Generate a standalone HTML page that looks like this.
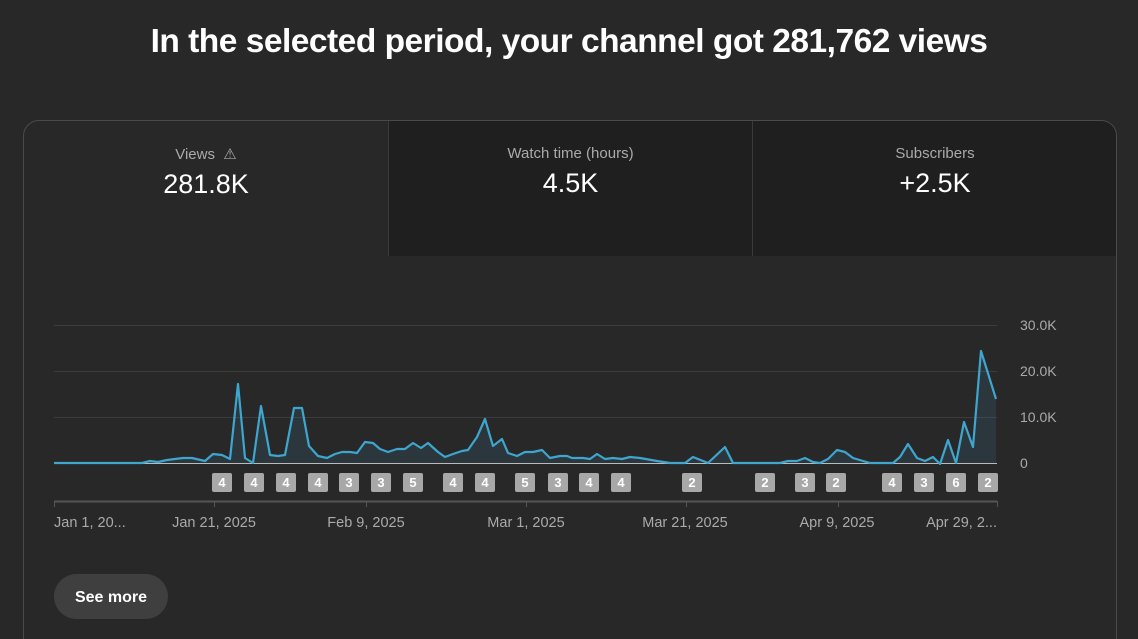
<!DOCTYPE html>
<html><head><style>
html,body{margin:0;width:1138px;height:639px;overflow:hidden}
body{background:#282828;font-family:"Liberation Sans",sans-serif;position:relative;color:#fff}
.t{position:absolute;top:23px;left:0;width:1138px;text-align:center;font-size:33.5px;font-weight:bold;letter-spacing:-0.5px}
.card{position:absolute;left:23px;top:120px;width:1092px;height:540px;border:1px solid #4a4a4a;border-radius:16px;background:#282828;overflow:hidden}
.tab{position:absolute;top:0;height:135px;text-align:center}
.tab .l{margin-top:24px;font-size:15px;color:#aaa}
.tab .v{margin-top:6px;font-size:27px;color:#fff}
</style></head><body>
<div class="t">In the selected period, your channel got 281,762 views</div>
<div class="card">
<div class="tab" style="left:0;width:364px"><div class="l">Views &nbsp;⚠</div><div class="v">281.8K</div></div>
<div class="tab" style="left:364px;width:363px;background:#1f1f1f;border-left:1px solid #3a3a3a"><div class="l">Watch time (hours)</div><div class="v">4.5K</div></div>
<div class="tab" style="left:728px;width:364px;background:#1f1f1f;border-left:1px solid #3a3a3a"><div class="l">Subscribers</div><div class="v">+2.5K</div></div>
</div>
<svg width="1138" height="639" style="position:absolute;left:0;top:0" font-family="Liberation Sans, sans-serif">
<g stroke="#3c3c3c" stroke-width="1"><line x1="54" x2="997" y1="325.5" y2="325.5"/><line x1="54" x2="997" y1="371.5" y2="371.5"/><line x1="54" x2="997" y1="417.5" y2="417.5"/></g>
<line x1="54" x2="997" y1="463.5" y2="463.5" stroke="#bbb"/>
<g fill="#aaa" font-size="14"><text x="1020" y="330">30.0K</text><text x="1020" y="376">20.0K</text><text x="1020" y="422">10.0K</text><text x="1020" y="468">0</text></g>
<path d="M54,463 L142,463 L150,461 L158,462 L167,460 L183,458 L192,458 L205,461 L213,454 L222,455 L230,459 L238,384 L245,458 L253,463 L261,406 L270,455 L278,456 L285,455 L294,408 L302,408 L309,446 L318,456 L327,458 L335,454 L342,452 L350,452 L357,453 L365,442 L373,443 L380,449 L388,452 L397,449 L405,449 L413,443 L421,448 L428,443 L438,452 L445,457 L453,454 L462,451 L468,450 L477,437 L485,419 L493,446 L502,439 L508,453 L517,456 L525,452 L533,452 L542,450 L550,458 L560,456 L567,456 L572,458 L583,458 L590,459 L597,454 L605,459 L613,458 L622,459 L630,457 L640,458 L657,461 L670,463 L685,463 L693,457 L708,463 L725,447 L733,463 L780,463 L788,461 L797,461 L805,458 L813,462 L820,463 L828,459 L837,450 L845,452 L853,458 L863,461 L870,463 L893,463 L900,457 L908,444 L917,458 L925,461 L933,457 L940,464 L948,440 L956,463 L964,422 L973,447 L981,351 L996,399" fill="none" stroke="#3ea6cf" stroke-width="2.2" stroke-linejoin="round"/>
<path d="M54,463 L142,463 L150,461 L158,462 L167,460 L183,458 L192,458 L205,461 L213,454 L222,455 L230,459 L238,384 L245,458 L253,463 L261,406 L270,455 L278,456 L285,455 L294,408 L302,408 L309,446 L318,456 L327,458 L335,454 L342,452 L350,452 L357,453 L365,442 L373,443 L380,449 L388,452 L397,449 L405,449 L413,443 L421,448 L428,443 L438,452 L445,457 L453,454 L462,451 L468,450 L477,437 L485,419 L493,446 L502,439 L508,453 L517,456 L525,452 L533,452 L542,450 L550,458 L560,456 L567,456 L572,458 L583,458 L590,459 L597,454 L605,459 L613,458 L622,459 L630,457 L640,458 L657,461 L670,463 L685,463 L693,457 L708,463 L725,447 L733,463 L780,463 L788,461 L797,461 L805,458 L813,462 L820,463 L828,459 L837,450 L845,452 L853,458 L863,461 L870,463 L893,463 L900,457 L908,444 L917,458 L925,461 L933,457 L940,464 L948,440 L956,463 L964,422 L973,447 L981,351 L996,399 L996,463 Z" fill="#3ea6cf" fill-opacity="0.12"/>
<line x1="54" x2="997" y1="501.5" y2="501.5" stroke="#555" stroke-width="2"/>
<g stroke="#555"><line x1="54.5" x2="54.5" y1="501" y2="507"/><line x1="214.5" x2="214.5" y1="501" y2="507"/><line x1="366.5" x2="366.5" y1="501" y2="507"/><line x1="526.5" x2="526.5" y1="501" y2="507"/><line x1="686.5" x2="686.5" y1="501" y2="507"/><line x1="838.5" x2="838.5" y1="501" y2="507"/><line x1="997.5" x2="997.5" y1="501" y2="507"/></g>
<g fill="#aaa" font-size="14.5"><text x="54" y="527">Jan 1, 20...</text><text x="214" y="527" text-anchor="middle">Jan 21, 2025</text><text x="366" y="527" text-anchor="middle">Feb 9, 2025</text><text x="526" y="527" text-anchor="middle">Mar 1, 2025</text><text x="685" y="527" text-anchor="middle">Mar 21, 2025</text><text x="837" y="527" text-anchor="middle">Apr 9, 2025</text><text x="997" y="527" text-anchor="end">Apr 29, 2...</text></g>
<rect x="54" y="574" width="114" height="45" rx="22.5" fill="#3f3f3f"/>
<text x="111" y="602" text-anchor="middle" font-size="16" font-weight="bold" fill="#fff">See more</text>
<g font-size="13" font-weight="bold" text-anchor="middle">
<g fill="#a8a8a8">
<rect x="212" y="473" width="20" height="19" rx="2"/><rect x="244" y="473" width="20" height="19" rx="2"/><rect x="276" y="473" width="20" height="19" rx="2"/><rect x="308" y="473" width="20" height="19" rx="2"/><rect x="339" y="473" width="20" height="19" rx="2"/><rect x="371" y="473" width="20" height="19" rx="2"/><rect x="403" y="473" width="20" height="19" rx="2"/><rect x="443" y="473" width="20" height="19" rx="2"/><rect x="475" y="473" width="20" height="19" rx="2"/><rect x="515" y="473" width="20" height="19" rx="2"/><rect x="548" y="473" width="20" height="19" rx="2"/><rect x="579" y="473" width="20" height="19" rx="2"/><rect x="611" y="473" width="20" height="19" rx="2"/><rect x="682" y="473" width="20" height="19" rx="2"/><rect x="755" y="473" width="20" height="19" rx="2"/><rect x="795" y="473" width="20" height="19" rx="2"/><rect x="826" y="473" width="20" height="19" rx="2"/><rect x="882" y="473" width="20" height="19" rx="2"/><rect x="914" y="473" width="20" height="19" rx="2"/><rect x="946" y="473" width="20" height="19" rx="2"/><rect x="978" y="473" width="20" height="19" rx="2"/>
</g>
<g fill="#fff">
<text x="222" y="487">4</text><text x="254" y="487">4</text><text x="286" y="487">4</text><text x="318" y="487">4</text><text x="349" y="487">3</text><text x="381" y="487">3</text><text x="413" y="487">5</text><text x="453" y="487">4</text><text x="485" y="487">4</text><text x="525" y="487">5</text><text x="558" y="487">3</text><text x="589" y="487">4</text><text x="621" y="487">4</text><text x="692" y="487">2</text><text x="765" y="487">2</text><text x="805" y="487">3</text><text x="836" y="487">2</text><text x="892" y="487">4</text><text x="924" y="487">3</text><text x="956" y="487">6</text><text x="988" y="487">2</text>
</g></g>
</svg>
</body></html>
